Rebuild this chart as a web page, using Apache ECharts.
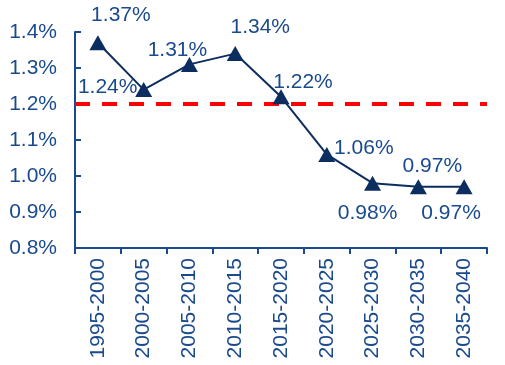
<!DOCTYPE html>
<html><head><meta charset="utf-8">
<script src="https://cdn.jsdelivr.net/npm/echarts@6/dist/echarts.min.js"></script>
<style>html,body{margin:0;padding:0;background:#fff}#c{width:505px;height:365px}</style>
</head><body><div id="c"></div>
<script>
const categories = ['1995-2000','2000-2005','2005-2010','2010-2015','2015-2020','2020-2025','2025-2030','2030-2035','2035-2040'];
const values = [1.37, 1.24, 1.31, 1.34, 1.22, 1.06, 0.98, 0.97, 0.97];
const refValue = 1.2;
const yTicks = {min: 0.8, max: 1.4, interval: 0.1};
const labelOffsets = [[23,-28],[-36,-2],[-12,-14],[25,-26],[22,-15],[37,-6],[-5,30],[14,-21],[-13,26]];

const txt = '#1a4a8e';
const navy = '#0c2d5f';
const font = 'Liberation Sans, Arial';
const chart = echarts.init(document.getElementById('c'));
chart.setOption({
  animation: false,
  grid: {left: 75, right: 18, top: 32, bottom: 117},
  xAxis: {
    type: 'category', data: categories, boundaryGap: true,
    axisLine: {lineStyle: {color: txt, width: 2}},
    axisTick: {show: true, length: 6, lineStyle: {color: txt, width: 2}},
    axisLabel: {rotate: 90, margin: 10, color: txt, fontSize: 21, fontFamily: font}
  },
  yAxis: {
    type: 'value', min: yTicks.min, max: yTicks.max, interval: yTicks.interval,
    axisLine: {show: true, lineStyle: {color: txt, width: 2}},
    axisTick: {show: true, inside: true, length: 6, lineStyle: {color: txt, width: 2}},
    splitLine: {show: false},
    axisLabel: {margin: 18, color: txt, fontSize: 21, fontFamily: font,
      formatter: v => v.toFixed(1) + '%'}
  },
  series: [{
    type: 'line',
    data: values.map((v, i) => ({
      value: v,
      label: {show: true, position: 'inside', offset: labelOffsets[i],
        formatter: p => p.value.toFixed(2) + '%',
        color: txt, fontSize: 21, fontFamily: font}
    })),
    symbol: 'triangle', symbolSize: [17, 15],
    lineStyle: {color: navy, width: 2},
    itemStyle: {color: navy},
    z: 3,
    markLine: {
      silent: true, symbol: 'none', label: {show: false},
      lineStyle: {color: '#ff0000', width: 4, type: [15, 12]},
      data: [{yAxis: refValue}],
      z: 2
    }
  }]
});
</script></body></html>
